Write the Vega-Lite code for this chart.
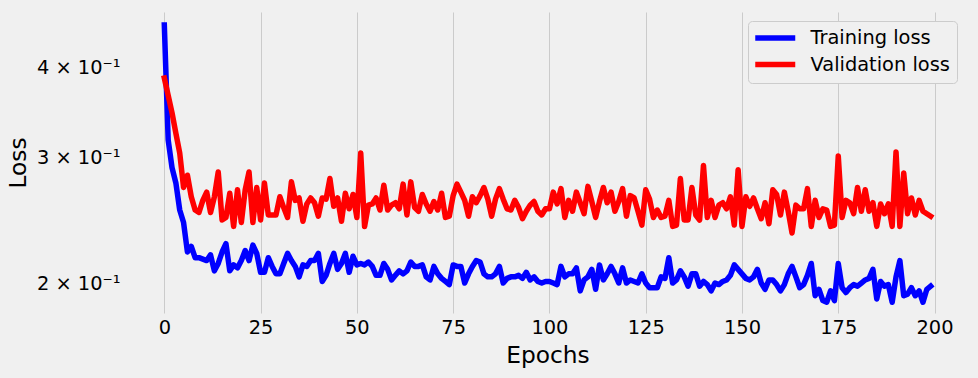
{
  "$schema": "https://vega.github.io/schema/vega-lite/v6.json",
  "autosize": "none",
  "width": 843,
  "height": 301,
  "padding": {"left": 126, "top": 12, "right": 9, "bottom": 65},
  "background": "#f0f0f0",
  "config": {
    "view": {"stroke": null},
    "font": "DejaVu Sans",
    "axis": {
      "domain": false,
      "ticks": false,
      "labelFont": "DejaVu Sans",
      "labelFontSize": 19.4,
      "labelColor": "#000000",
      "titleFont": "DejaVu Sans",
      "titleFontSize": 23.3,
      "titleFontWeight": "normal",
      "titleColor": "#000000"
    },
    "legend": {
      "labelFont": "DejaVu Sans",
      "labelFontSize": 19.4,
      "labelColor": "#000000"
    }
  },
  "data": {
    "values": [
      {"epoch": 0, "train": 0.459, "val": 0.387},
      {"epoch": 1, "train": 0.317, "val": 0.366},
      {"epoch": 2, "train": 0.290, "val": 0.346},
      {"epoch": 3, "train": 0.276, "val": 0.324},
      {"epoch": 4, "train": 0.253, "val": 0.304},
      {"epoch": 5, "train": 0.243, "val": 0.272},
      {"epoch": 6, "train": 0.221, "val": 0.283},
      {"epoch": 7, "train": 0.225, "val": 0.264},
      {"epoch": 8, "train": 0.217, "val": 0.253},
      {"epoch": 9, "train": 0.217, "val": 0.251},
      {"epoch": 10, "train": 0.216, "val": 0.261},
      {"epoch": 11, "train": 0.215, "val": 0.268},
      {"epoch": 12, "train": 0.219, "val": 0.251},
      {"epoch": 13, "train": 0.208, "val": 0.264},
      {"epoch": 14, "train": 0.213, "val": 0.286},
      {"epoch": 15, "train": 0.221, "val": 0.245},
      {"epoch": 16, "train": 0.227, "val": 0.247},
      {"epoch": 17, "train": 0.208, "val": 0.267},
      {"epoch": 18, "train": 0.212, "val": 0.240},
      {"epoch": 19, "train": 0.210, "val": 0.270},
      {"epoch": 20, "train": 0.215, "val": 0.243},
      {"epoch": 21, "train": 0.222, "val": 0.270},
      {"epoch": 22, "train": 0.215, "val": 0.286},
      {"epoch": 23, "train": 0.226, "val": 0.243},
      {"epoch": 24, "train": 0.220, "val": 0.272},
      {"epoch": 25, "train": 0.207, "val": 0.245},
      {"epoch": 26, "train": 0.207, "val": 0.276},
      {"epoch": 27, "train": 0.217, "val": 0.249},
      {"epoch": 28, "train": 0.211, "val": 0.249},
      {"epoch": 29, "train": 0.206, "val": 0.249},
      {"epoch": 30, "train": 0.206, "val": 0.264},
      {"epoch": 31, "train": 0.213, "val": 0.255},
      {"epoch": 32, "train": 0.220, "val": 0.247},
      {"epoch": 33, "train": 0.215, "val": 0.277},
      {"epoch": 34, "train": 0.211, "val": 0.261},
      {"epoch": 35, "train": 0.204, "val": 0.263},
      {"epoch": 36, "train": 0.212, "val": 0.244},
      {"epoch": 37, "train": 0.211, "val": 0.258},
      {"epoch": 38, "train": 0.215, "val": 0.263},
      {"epoch": 39, "train": 0.215, "val": 0.259},
      {"epoch": 40, "train": 0.220, "val": 0.248},
      {"epoch": 41, "train": 0.201, "val": 0.263},
      {"epoch": 42, "train": 0.205, "val": 0.262},
      {"epoch": 43, "train": 0.213, "val": 0.280},
      {"epoch": 44, "train": 0.220, "val": 0.256},
      {"epoch": 45, "train": 0.209, "val": 0.263},
      {"epoch": 46, "train": 0.213, "val": 0.244},
      {"epoch": 47, "train": 0.220, "val": 0.267},
      {"epoch": 48, "train": 0.207, "val": 0.254},
      {"epoch": 49, "train": 0.218, "val": 0.266},
      {"epoch": 50, "train": 0.212, "val": 0.247},
      {"epoch": 51, "train": 0.213, "val": 0.304},
      {"epoch": 52, "train": 0.212, "val": 0.240},
      {"epoch": 53, "train": 0.214, "val": 0.257},
      {"epoch": 54, "train": 0.211, "val": 0.258},
      {"epoch": 55, "train": 0.205, "val": 0.263},
      {"epoch": 56, "train": 0.205, "val": 0.253},
      {"epoch": 57, "train": 0.213, "val": 0.274},
      {"epoch": 58, "train": 0.209, "val": 0.253},
      {"epoch": 59, "train": 0.202, "val": 0.257},
      {"epoch": 60, "train": 0.205, "val": 0.259},
      {"epoch": 61, "train": 0.208, "val": 0.254},
      {"epoch": 62, "train": 0.206, "val": 0.275},
      {"epoch": 63, "train": 0.208, "val": 0.249},
      {"epoch": 64, "train": 0.214, "val": 0.277},
      {"epoch": 65, "train": 0.211, "val": 0.255},
      {"epoch": 66, "train": 0.211, "val": 0.252},
      {"epoch": 67, "train": 0.212, "val": 0.266},
      {"epoch": 68, "train": 0.204, "val": 0.258},
      {"epoch": 69, "train": 0.202, "val": 0.252},
      {"epoch": 70, "train": 0.211, "val": 0.260},
      {"epoch": 71, "train": 0.206, "val": 0.253},
      {"epoch": 72, "train": 0.203, "val": 0.267},
      {"epoch": 73, "train": 0.201, "val": 0.247},
      {"epoch": 74, "train": 0.199, "val": 0.248},
      {"epoch": 75, "train": 0.212, "val": 0.265},
      {"epoch": 76, "train": 0.211, "val": 0.275},
      {"epoch": 77, "train": 0.211, "val": 0.268},
      {"epoch": 78, "train": 0.200, "val": 0.261},
      {"epoch": 79, "train": 0.206, "val": 0.248},
      {"epoch": 80, "train": 0.211, "val": 0.264},
      {"epoch": 81, "train": 0.215, "val": 0.259},
      {"epoch": 82, "train": 0.214, "val": 0.265},
      {"epoch": 83, "train": 0.206, "val": 0.272},
      {"epoch": 84, "train": 0.204, "val": 0.262},
      {"epoch": 85, "train": 0.204, "val": 0.248},
      {"epoch": 86, "train": 0.206, "val": 0.262},
      {"epoch": 87, "train": 0.211, "val": 0.271},
      {"epoch": 88, "train": 0.200, "val": 0.262},
      {"epoch": 89, "train": 0.203, "val": 0.254},
      {"epoch": 90, "train": 0.204, "val": 0.253},
      {"epoch": 91, "train": 0.204, "val": 0.261},
      {"epoch": 92, "train": 0.205, "val": 0.255},
      {"epoch": 93, "train": 0.203, "val": 0.246},
      {"epoch": 94, "train": 0.207, "val": 0.252},
      {"epoch": 95, "train": 0.202, "val": 0.257},
      {"epoch": 96, "train": 0.204, "val": 0.260},
      {"epoch": 97, "train": 0.201, "val": 0.252},
      {"epoch": 98, "train": 0.200, "val": 0.249},
      {"epoch": 99, "train": 0.201, "val": 0.254},
      {"epoch": 100, "train": 0.201, "val": 0.254},
      {"epoch": 101, "train": 0.200, "val": 0.268},
      {"epoch": 102, "train": 0.199, "val": 0.258},
      {"epoch": 103, "train": 0.211, "val": 0.271},
      {"epoch": 104, "train": 0.204, "val": 0.247},
      {"epoch": 105, "train": 0.206, "val": 0.261},
      {"epoch": 106, "train": 0.206, "val": 0.252},
      {"epoch": 107, "train": 0.210, "val": 0.268},
      {"epoch": 108, "train": 0.195, "val": 0.259},
      {"epoch": 109, "train": 0.202, "val": 0.250},
      {"epoch": 110, "train": 0.204, "val": 0.273},
      {"epoch": 111, "train": 0.209, "val": 0.260},
      {"epoch": 112, "train": 0.196, "val": 0.247},
      {"epoch": 113, "train": 0.212, "val": 0.260},
      {"epoch": 114, "train": 0.202, "val": 0.272},
      {"epoch": 115, "train": 0.206, "val": 0.259},
      {"epoch": 116, "train": 0.211, "val": 0.268},
      {"epoch": 117, "train": 0.206, "val": 0.252},
      {"epoch": 118, "train": 0.200, "val": 0.260},
      {"epoch": 119, "train": 0.210, "val": 0.271},
      {"epoch": 120, "train": 0.200, "val": 0.248},
      {"epoch": 121, "train": 0.202, "val": 0.265},
      {"epoch": 122, "train": 0.201, "val": 0.263},
      {"epoch": 123, "train": 0.200, "val": 0.252},
      {"epoch": 124, "train": 0.206, "val": 0.241},
      {"epoch": 125, "train": 0.200, "val": 0.270},
      {"epoch": 126, "train": 0.197, "val": 0.262},
      {"epoch": 127, "train": 0.197, "val": 0.247},
      {"epoch": 128, "train": 0.197, "val": 0.253},
      {"epoch": 129, "train": 0.204, "val": 0.247},
      {"epoch": 130, "train": 0.203, "val": 0.248},
      {"epoch": 131, "train": 0.217, "val": 0.261},
      {"epoch": 132, "train": 0.200, "val": 0.240},
      {"epoch": 133, "train": 0.202, "val": 0.241},
      {"epoch": 134, "train": 0.208, "val": 0.280},
      {"epoch": 135, "train": 0.204, "val": 0.245},
      {"epoch": 136, "train": 0.198, "val": 0.245},
      {"epoch": 137, "train": 0.206, "val": 0.272},
      {"epoch": 138, "train": 0.206, "val": 0.249},
      {"epoch": 139, "train": 0.198, "val": 0.245},
      {"epoch": 140, "train": 0.201, "val": 0.292},
      {"epoch": 141, "train": 0.199, "val": 0.247},
      {"epoch": 142, "train": 0.195, "val": 0.261},
      {"epoch": 143, "train": 0.200, "val": 0.247},
      {"epoch": 144, "train": 0.199, "val": 0.257},
      {"epoch": 145, "train": 0.201, "val": 0.259},
      {"epoch": 146, "train": 0.202, "val": 0.254},
      {"epoch": 147, "train": 0.205, "val": 0.264},
      {"epoch": 148, "train": 0.212, "val": 0.241},
      {"epoch": 149, "train": 0.209, "val": 0.288},
      {"epoch": 150, "train": 0.206, "val": 0.240},
      {"epoch": 151, "train": 0.203, "val": 0.264},
      {"epoch": 152, "train": 0.202, "val": 0.256},
      {"epoch": 153, "train": 0.204, "val": 0.263},
      {"epoch": 154, "train": 0.209, "val": 0.254},
      {"epoch": 155, "train": 0.200, "val": 0.246},
      {"epoch": 156, "train": 0.196, "val": 0.259},
      {"epoch": 157, "train": 0.202, "val": 0.242},
      {"epoch": 158, "train": 0.202, "val": 0.270},
      {"epoch": 159, "train": 0.199, "val": 0.266},
      {"epoch": 160, "train": 0.195, "val": 0.249},
      {"epoch": 161, "train": 0.199, "val": 0.268},
      {"epoch": 162, "train": 0.206, "val": 0.252},
      {"epoch": 163, "train": 0.211, "val": 0.235},
      {"epoch": 164, "train": 0.204, "val": 0.257},
      {"epoch": 165, "train": 0.197, "val": 0.254},
      {"epoch": 166, "train": 0.199, "val": 0.254},
      {"epoch": 167, "train": 0.205, "val": 0.271},
      {"epoch": 168, "train": 0.213, "val": 0.240},
      {"epoch": 169, "train": 0.192, "val": 0.261},
      {"epoch": 170, "train": 0.196, "val": 0.247},
      {"epoch": 171, "train": 0.189, "val": 0.254},
      {"epoch": 172, "train": 0.188, "val": 0.253},
      {"epoch": 173, "train": 0.195, "val": 0.240},
      {"epoch": 174, "train": 0.189, "val": 0.241},
      {"epoch": 175, "train": 0.213, "val": 0.301},
      {"epoch": 176, "train": 0.197, "val": 0.247},
      {"epoch": 177, "train": 0.194, "val": 0.261},
      {"epoch": 178, "train": 0.197, "val": 0.259},
      {"epoch": 179, "train": 0.199, "val": 0.250},
      {"epoch": 180, "train": 0.198, "val": 0.272},
      {"epoch": 181, "train": 0.200, "val": 0.252},
      {"epoch": 182, "train": 0.202, "val": 0.270},
      {"epoch": 183, "train": 0.203, "val": 0.252},
      {"epoch": 184, "train": 0.209, "val": 0.259},
      {"epoch": 185, "train": 0.190, "val": 0.240},
      {"epoch": 186, "train": 0.201, "val": 0.258},
      {"epoch": 187, "train": 0.198, "val": 0.250},
      {"epoch": 188, "train": 0.199, "val": 0.258},
      {"epoch": 189, "train": 0.188, "val": 0.240},
      {"epoch": 190, "train": 0.204, "val": 0.305},
      {"epoch": 191, "train": 0.215, "val": 0.240},
      {"epoch": 192, "train": 0.192, "val": 0.285},
      {"epoch": 193, "train": 0.193, "val": 0.250},
      {"epoch": 194, "train": 0.197, "val": 0.263},
      {"epoch": 195, "train": 0.192, "val": 0.249},
      {"epoch": 196, "train": 0.195, "val": 0.261},
      {"epoch": 197, "train": 0.188, "val": 0.252},
      {"epoch": 198, "train": 0.196, "val": 0.250},
      {"epoch": 199, "train": 0.198, "val": 0.248}
    ]
  },
  "transform": [
    {"fold": ["train", "val"], "as": ["series", "loss"]}
  ],
  "mark": {"type": "line", "strokeWidth": 5.5, "strokeJoin": "round", "strokeCap": "square"},
  "encoding": {
    "x": {
      "field": "epoch",
      "type": "quantitative",
      "scale": {"domain": [-9.95, 208.95], "nice": false, "zero": false},
      "axis": {
        "title": "Epochs",
        "values": [0, 25, 50, 75, 100, 125, 150, 175, 200],
        "grid": true,
        "gridColor": "#cbcbcb",
        "gridWidth": 1,
        "labelPadding": 5,
        "titlePadding": 8
      }
    },
    "y": {
      "field": "loss",
      "type": "quantitative",
      "scale": {"type": "log", "domain": [0.1816, 0.4786], "nice": false},
      "axis": {
        "title": "Loss",
        "values": [0.2, 0.3, 0.4],
        "labelExpr": "round(datum.value * 10) + ' × 10⁻¹'",
        "grid": false,
        "labelPadding": 6,
        "titlePadding": 6
      }
    },
    "color": {
      "field": "series",
      "type": "nominal",
      "scale": {"domain": ["train", "val"], "range": ["#0000ff", "#ff0000"]},
      "legend": {
        "title": null,
        "orient": "none",
        "legendX": 622,
        "legendY": 9,
        "labelExpr": "datum.value == 'train' ? 'Training loss' : 'Validation loss'",
        "symbolType": "M-1.393,0H4.321",
        "symbolSize": 196,
        "symbolStrokeWidth": 5.5,
        "labelOffset": 35.5,
        "padding": 7,
        "fillColor": "#f0f0f0",
        "strokeColor": "#cccccc",
        "cornerRadius": 4,
        "rowPadding": 4.5
      }
    }
  }
}
